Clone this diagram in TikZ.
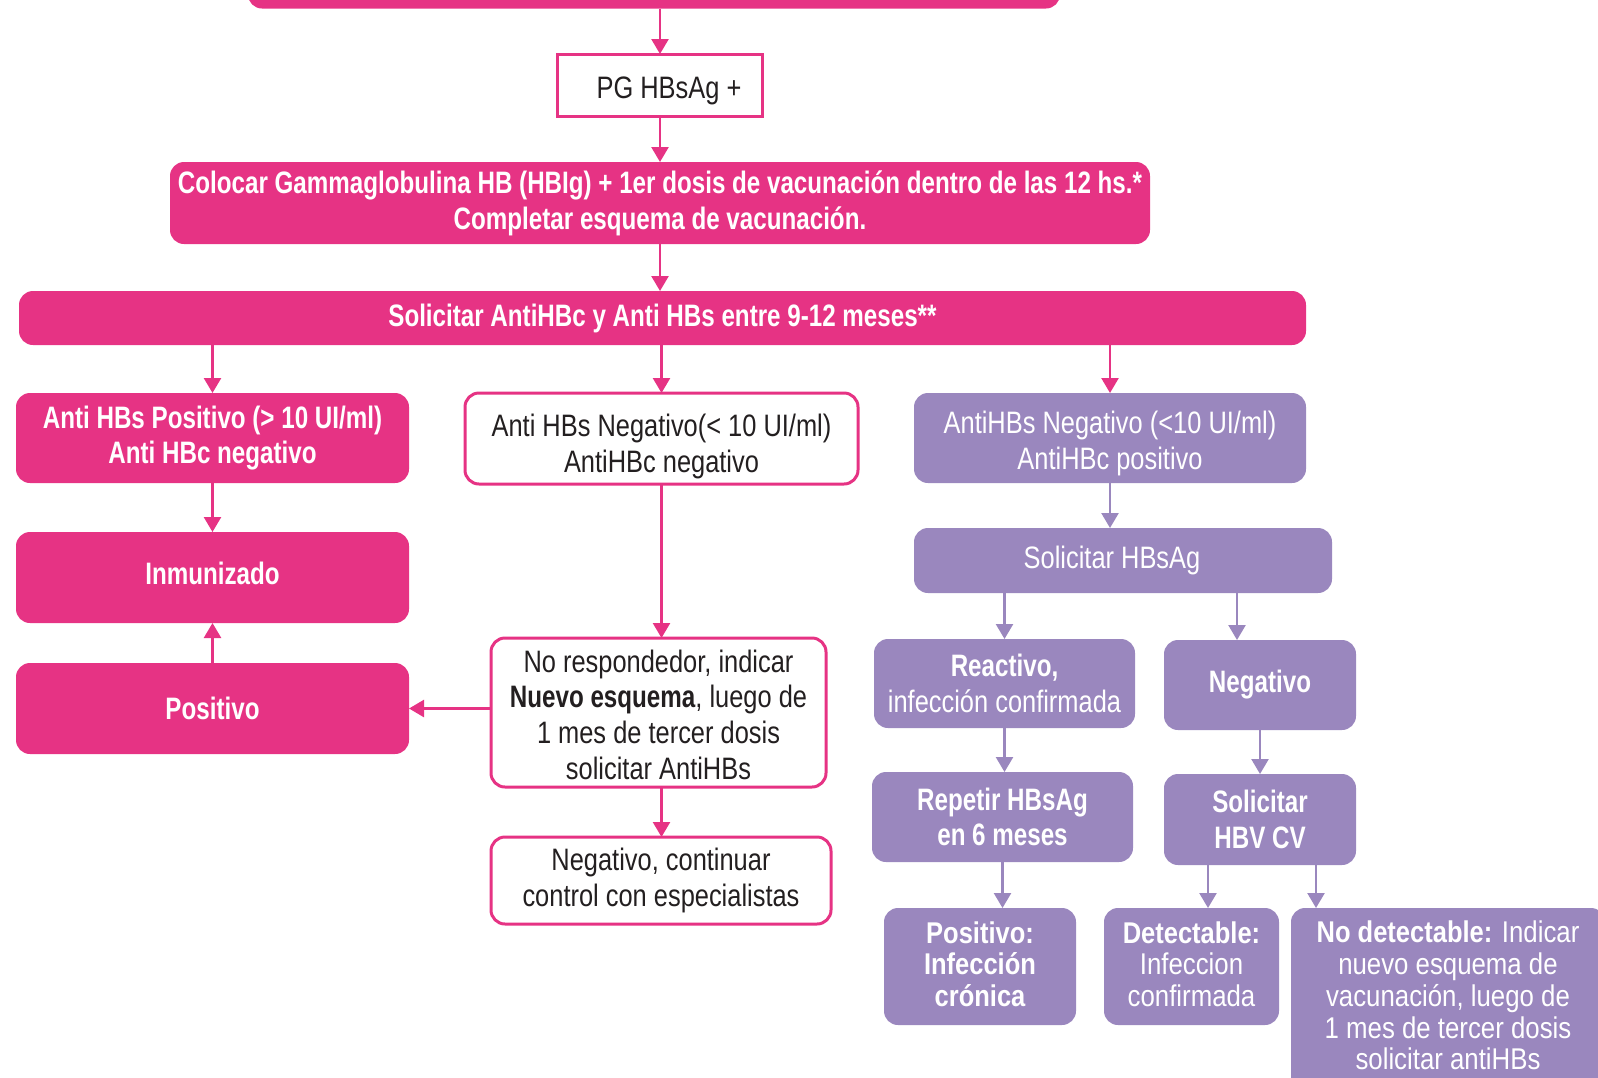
\documentclass[tikz,border=0pt]{standalone}
\usepackage{fontspec}
\setmainfont{Liberation Sans}[UprightFeatures={FakeStretch=0.82}, BoldFeatures={FakeStretch=0.78}]
\newfontfamily\lowf{Liberation Sans}[UprightFeatures={FakeStretch=0.86}, BoldFeatures={FakeStretch=0.85}]
\usetikzlibrary{arrows.meta,calc}
\definecolor{pk}{HTML}{E63384}
\definecolor{pu}{HTML}{9A87BE}
\definecolor{tx}{HTML}{231F20}
\newcommand{\mv}[2]{\raisebox{#1}[\height][\depth]{\begin{tabular}{@{}c@{}}#2\end{tabular}}}
\tikzset{
  base/.style={rounded corners=14pt, align=center, inner sep=0pt, outer sep=0pt},
  pbox/.style={base, fill=pk, text=white, font=\bfseries\fontsize{31}{35.7}\selectfont},
  wbox/.style={base, draw=pk, line width=3pt, fill=white, text=tx, font=\fontsize{31}{35.7}\selectfont},
  ubox/.style={base, fill=pu, text=white, font=\fontsize{31}{35.7}\selectfont},
  ubbox/.style={ubox, font=\bfseries\fontsize{31}{35.7}\selectfont},
  lbox/.style={base, fill=pu, text=white, font=\lowf\fontsize{30}{31.8}\selectfont},
  arr/.style={draw=pk, line width=2.5pt, -{Triangle[width=17pt,length=15pt]}},
  uarr/.style={draw=pu, line width=2.5pt, -{Triangle[width=17pt,length=15pt]}}
}
\begin{document}
\begin{tikzpicture}[x=1pt,y=-1pt]
\useasboundingbox (0,0) rectangle (1598,1077);
\clip (0,0) rectangle (1598,1077);
% top partial box
\node[pbox, minimum width=812pt, minimum height=60pt] (top) at (654,-21.5) {};
\node[wbox, rounded corners=0pt, minimum width=205pt, minimum height=62pt] (pg) at (660,85) {\raisebox{-6pt}[\height][\depth]{\hspace{18pt}PG HBsAg +}};
\node[pbox, minimum width=980pt, minimum height=82pt] (col) at (660,203)
  {Colocar Gammaglobulina HB (HBIg) + 1er dosis de vacunación dentro de las 12 hs.*\\Completar esquema de vacunación.};
\node[pbox, minimum width=1287pt, minimum height=54pt] (sol) at (662.5,318)
  {Solicitar AntiHBc y Anti HBs entre 9-12 meses**};
% left column
\node[pbox, minimum width=393pt, minimum height=90pt] (ahp) at (212.5,438)
  {Anti HBs Positivo (> 10 UI/ml)\\Anti HBc negativo};
\node[pbox, minimum width=393pt, minimum height=91pt] (inm) at (212.5,577.5) {\raisebox{4pt}[\height][\depth]{Inmunizado}};
\node[pbox, minimum width=393pt, minimum height=91pt] (posi) at (212.5,708.5) {Positivo};
% middle column
\node[wbox, minimum width=393pt, minimum height=91pt] (ahn) at (661.5,438.5)
  {\mv{-9pt}{Anti HBs Negativo(< 10 UI/ml)\\AntiHBc negativo}};
\node[wbox, minimum width=335pt, minimum height=149pt] (nores) at (658.5,712.5)
  {\mv{-6pt}{No respondedor, indicar\\\textbf{Nuevo esquema}, luego de\\1 mes de tercer dosis\\solicitar AntiHBs}};
\node[wbox, minimum width=340pt, minimum height=87pt] (negc) at (661,880.5)
  {Negativo, continuar\\control con especialistas};
% right column
\node[ubox, minimum width=392pt, minimum height=90pt] (ahu) at (1110,438)
  {\mv{-6pt}{AntiHBs Negativo (<10 UI/ml)\\AntiHBc positivo}};
\node[ubox, minimum width=418pt, minimum height=65pt] (shb) at (1123,560.5) {Solicitar HBsAg\hspace{22pt}};
\node[ubox, minimum width=261pt, minimum height=89pt] (rea) at (1004.5,683.5)
  {\textbf{Reactivo,}\\infección confirmada};
\node[ubbox, minimum width=192pt, minimum height=90pt] (neg) at (1260,685) {Negativo};
\node[ubbox, minimum width=261pt, minimum height=90pt] (rep) at (1002.5,817)
  {Repetir HBsAg\\en 6 meses};
\node[ubbox, minimum width=192pt, minimum height=91pt] (hbv) at (1260,819.5)
  {Solicitar\\HBV CV};
\node[lbox, font=\lowf\bfseries\fontsize{30}{31.8}\selectfont, minimum width=192pt, minimum height=117pt] (pinf) at (980,966.5)
  {\mv{-2pt}{Positivo:\\Infección\\crónica}};
\node[lbox, minimum width=175pt, minimum height=117pt] (det) at (1191.5,966.5)
  {\mv{-2pt}{\textbf{Detectable:}\\Infeccion\\confirmada}};
\node[lbox, minimum width=314pt, minimum height=186pt] (nod) at (1448,1001)
  {\mv{1pt}{\textbf{No detectable:} Indicar\\nuevo esquema de\\vacunación, luego de\\1 mes de tercer dosis\\solicitar antiHBs}};
% connectors
\draw[arr] (top.south -| pg.north) -- (pg.north);
\draw[arr] (pg.south) -- (col.north -| pg.south);
\draw[arr] (col.south) -- (col.south |- sol.north);
\draw[arr] (sol.south -| ahp.north) -- (ahp.north);
\draw[arr] (sol.south -| ahn.north) -- (ahn.north);
\draw[arr] (sol.south -| ahu.north) -- (ahu.north);
\draw[arr] (ahp.south) -- (inm.north);
\draw[arr] (posi.north) -- (inm.south);
\draw[arr] (ahn.south) -- (ahn.south |- nores.north);
\draw[arr] (nores.west |- posi.east) -- (posi.east);
\draw[arr] (nores.south -| ahn.south) -- (ahn.south |- negc.north);
\draw[uarr] (ahu.south) -- (ahu.south |- shb.north);
\draw[uarr] (shb.south -| rea.north) -- (rea.north);
\draw[uarr] ($(shb.south -| neg.north)+(-23,0)$) -- ($(neg.north)+(-23,0)$);
\draw[uarr] (rea.south) -- (rea.south |- rep.north);
\draw[uarr] (neg.south) -- (neg.south |- hbv.north);
\draw[uarr] (rep.south) -- (rep.south |- pinf.north);
\draw[uarr] ($(hbv.south)+(-52,0)$) -- ($(hbv.south |- det.north)+(-52,0)$);
\draw[uarr] ($(hbv.south)+(56,0)$) -- ($(hbv.south |- nod.north)+(56,0)$);
\end{tikzpicture}
\end{document}
